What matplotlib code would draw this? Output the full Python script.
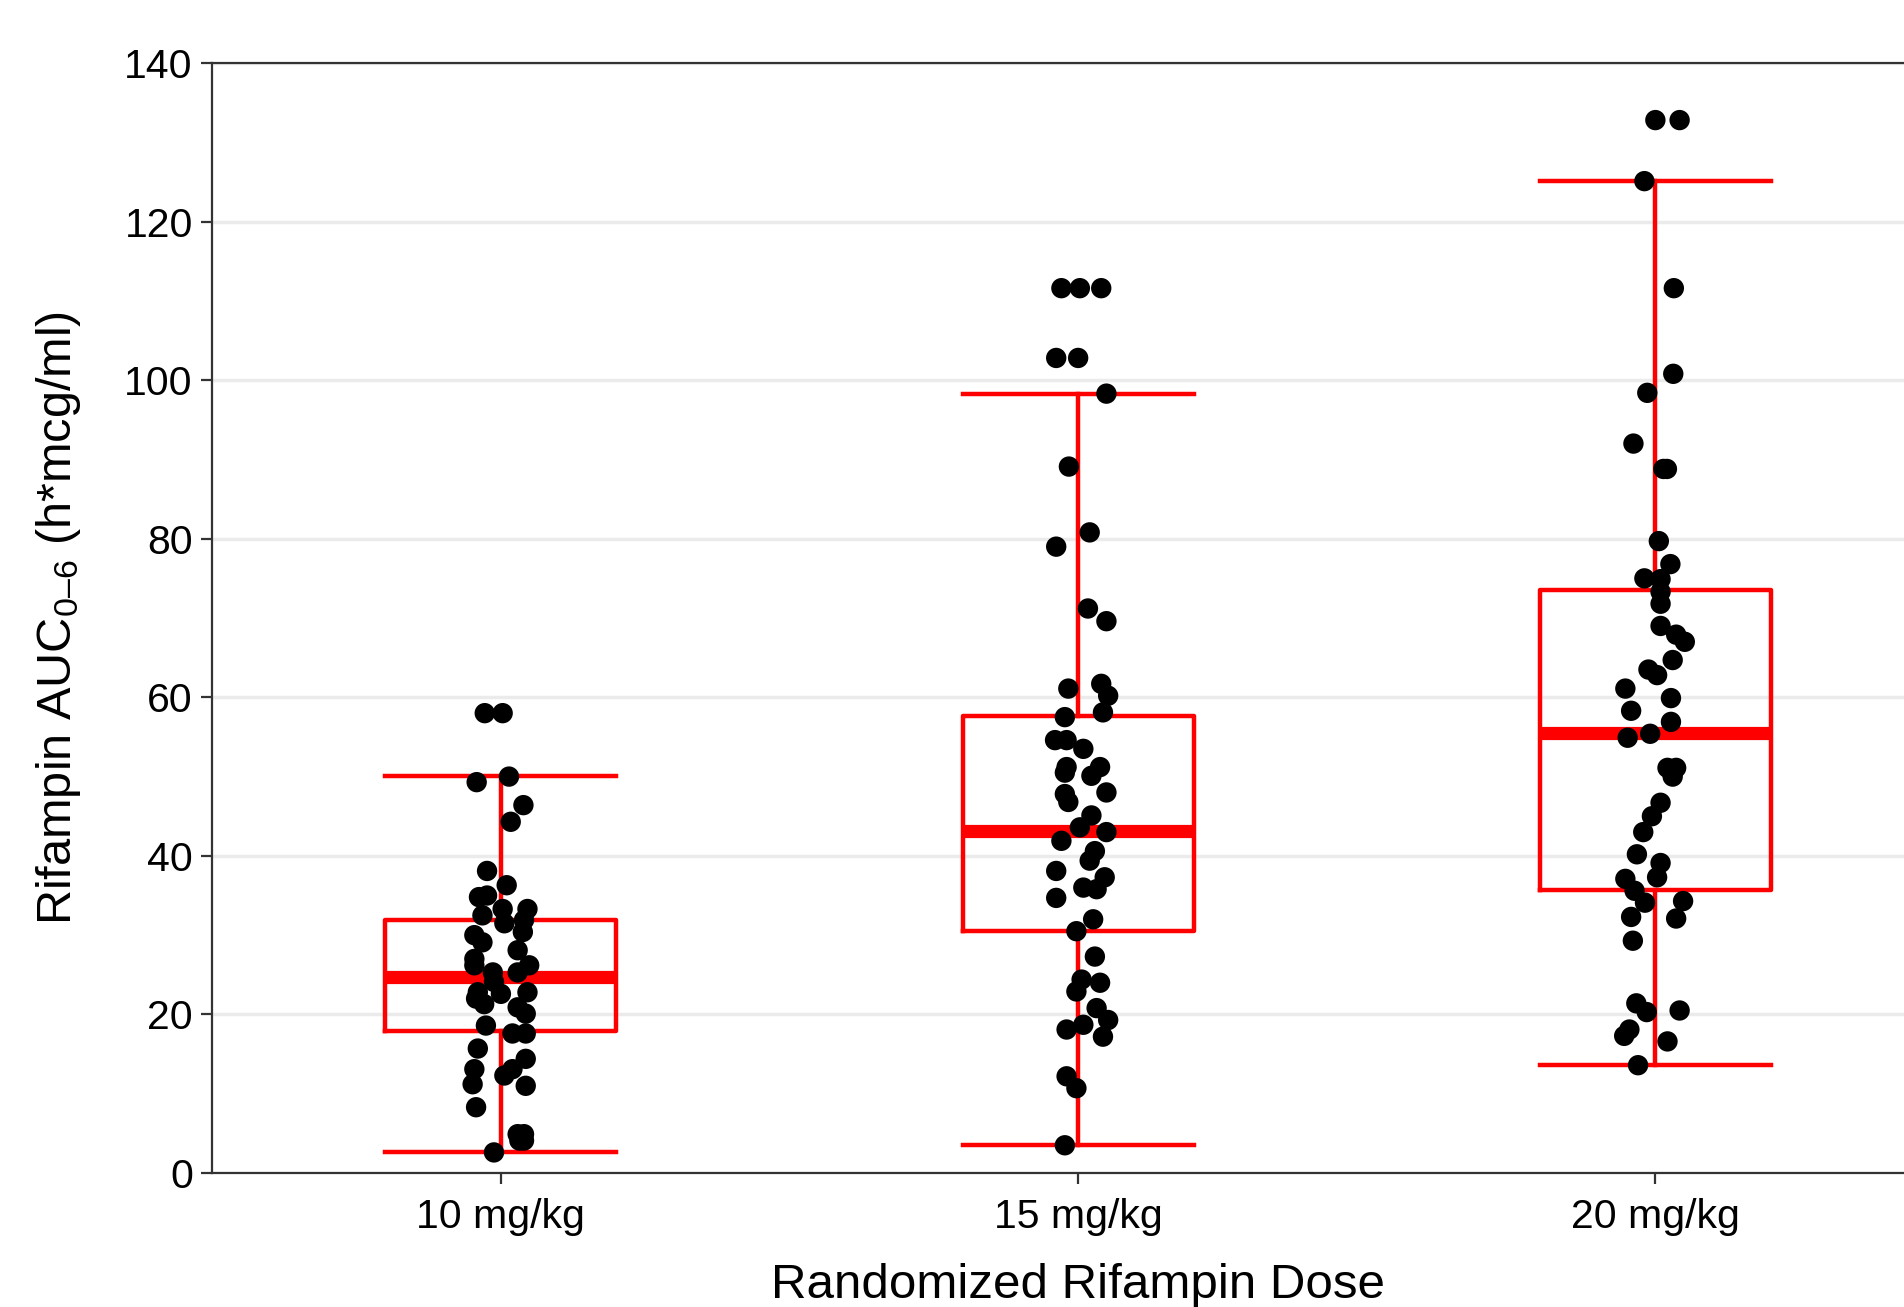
import matplotlib.pyplot as plt

plt.rcParams['font.family'] = ['Liberation Sans', 'DejaVu Sans']
plt.rcParams['mathtext.fontset'] = 'custom'
plt.rcParams['mathtext.rm'] = 'Liberation Sans'
plt.rcParams['mathtext.it'] = 'Liberation Sans:italic'

doses = ["10 mg/kg", "15 mg/kg", "20 mg/kg"]

# box statistics
whislo = [2.6, 3.5, 13.6]
q1 = [17.9, 30.5, 35.7]
med = [24.7, 43.2, 55.5]
q3 = [31.9, 57.6, 73.5]
whishi = [50.1, 98.2, 125.1]

# individual AUC values with the horizontal jitter seen in the figure
auc_10 = [58.0, 58.0, 49.3, 50.0, 46.4, 44.3, 38.1, 36.3, 34.8, 35.0, 32.5, 33.3,
          33.3, 31.9, 30.4, 31.5, 30.0, 29.1, 28.1, 27.0, 26.2, 26.2, 25.3, 25.3,
          24.1, 22.8, 22.0, 21.3, 22.6, 22.8, 20.9, 20.1, 18.6, 17.6, 17.6, 15.7,
          14.4, 13.1, 12.3, 13.1, 11.2, 11.0, 8.3, 4.9, 4.9, 4.1, 4.1, 2.6]
jit_10 = [-0.028, 0.003, -0.042, 0.014, 0.039, 0.017, -0.024, 0.010, -0.038, -0.024,
          -0.032, 0.003, 0.046, 0.040, 0.038, 0.006, -0.046, -0.032, 0.029, -0.046,
          -0.046, 0.049, 0.029, -0.014, -0.012, -0.040, -0.043, -0.029, 0.0, 0.046,
          0.029, 0.043, -0.026, 0.020, 0.043, -0.040, 0.043, 0.020, 0.006, -0.046,
          -0.049, 0.043, -0.043, 0.029, 0.040, 0.032, 0.040, -0.012]

auc_15 = [111.6, 111.6, 111.6, 102.8, 102.8, 98.3, 89.1, 80.8, 79.0, 71.2, 69.6,
          61.1, 61.7, 60.2, 58.1, 57.5, 54.6, 54.6, 53.5, 51.2, 50.5, 51.2, 50.1,
          48.0, 47.8, 46.8, 45.1, 43.6, 43.0, 41.9, 40.6, 39.4, 38.1, 37.3, 36.0,
          35.8, 34.7, 32.0, 30.5, 27.3, 24.4, 24.0, 22.9, 20.8, 19.3, 18.1, 18.7,
          17.2, 12.2, 10.7, 3.5]
jit_15 = [-0.029, 0.003, 0.040, -0.038, 0.0, 0.049, -0.016, 0.020, -0.038, 0.017,
          0.049, -0.017, 0.040, 0.052, 0.043, -0.023, -0.040, -0.020, 0.009, -0.020,
          -0.023, 0.038, 0.023, 0.049, -0.023, -0.017, 0.023, 0.003, 0.049, -0.029,
          0.029, 0.020, -0.038, 0.046, 0.009, 0.032, -0.038, 0.026, -0.003, 0.029,
          0.006, 0.038, -0.003, 0.032, 0.052, -0.020, 0.009, 0.043, -0.020, -0.003,
          -0.023]

auc_20 = [132.8, 132.8, 125.1, 111.6, 100.8, 98.4, 92.0, 88.8, 88.8, 79.7, 76.8,
          75.0, 74.9, 73.3, 71.8, 69.0, 67.9, 67.0, 64.7, 63.5, 62.8, 61.1, 59.9,
          58.3, 56.9, 55.4, 54.9, 51.1, 51.1, 50.0, 46.7, 45.0, 43.0, 40.2, 39.1,
          37.3, 37.1, 35.6, 34.1, 34.3, 32.1, 32.3, 29.3, 21.4, 20.3, 20.5, 18.1,
          17.3, 16.6, 13.6]
jit_20 = [0.0, 0.042, -0.019, 0.032, 0.031, -0.014, -0.038, 0.014, 0.020, 0.006,
          0.026, -0.019, 0.009, 0.009, 0.009, 0.009, 0.036, 0.051, 0.030, -0.012,
          0.003, -0.052, 0.027, -0.042, 0.027, -0.009, -0.048, 0.021, 0.036, 0.030,
          0.009, -0.006, -0.021, -0.032, 0.009, 0.003, -0.052, -0.036, -0.018, 0.048,
          0.036, -0.042, -0.039, -0.033, -0.015, 0.042, -0.045, -0.054, 0.021, -0.030]

values = [auc_10, auc_15, auc_20]
jitters = [jit_10, jit_15, jit_20]

fig = plt.figure(figsize=(19.04, 13.07), dpi=100)
# the axes runs past the right edge of the picture, as in the original
ax = fig.add_axes([0.1115, 0.1025, 0.9095, 0.8493])

positions = list(range(1, len(doses) + 1))
stats = []
for i in range(len(doses)):
    stats.append({"whislo": whislo[i], "q1": q1[i], "med": med[i],
                  "q3": q3[i], "whishi": whishi[i], "fliers": []})

red = "#ff0000"
ax.bxp(stats, positions=positions, widths=0.4, capwidths=0.4, showfliers=False,
       boxprops=dict(color=red, linewidth=3.2),
       whiskerprops=dict(color=red, linewidth=3.2),
       capprops=dict(color=red, linewidth=3.2),
       medianprops=dict(color=red, linewidth=9.5, solid_capstyle="butt"),
       zorder=2)

for pos, vals, jit in zip(positions, values, jitters):
    xs = [pos + j for j in jit]
    ax.scatter(xs, vals, s=215, color="black", edgecolors="none", zorder=3)

ax.set_xlim(0.5, 3.5)
ax.set_ylim(0, 140)
ax.set_yticks(range(0, 141, 20))
ax.set_xticks(positions)
ax.set_xticklabels(doses)

ax.yaxis.grid(True, color="#ebebeb", linewidth=2.5)
ax.set_axisbelow(True)

for side in ["left", "bottom", "top", "right"]:
    ax.spines[side].set_color("#333333")
    ax.spines[side].set_linewidth(1.6)

ax.tick_params(axis="both", labelsize=29.5, length=8, width=1.6, color="#333333",
               labelcolor="black", pad=6)
ax.tick_params(axis="x", pad=10)

ax.set_ylabel("Rifampin AUC$_{\\mathrm{0–6}}$ (h*mcg/ml)", fontsize=35, va="center")
ax.yaxis.set_label_coords(-0.089, 0.5)
ax.set_xlabel("Randomized Rifampin Dose", fontsize=35.5, va="center")
ax.xaxis.set_label_coords(0.5, -0.101)

fig.savefig("out.png", dpi=100)
